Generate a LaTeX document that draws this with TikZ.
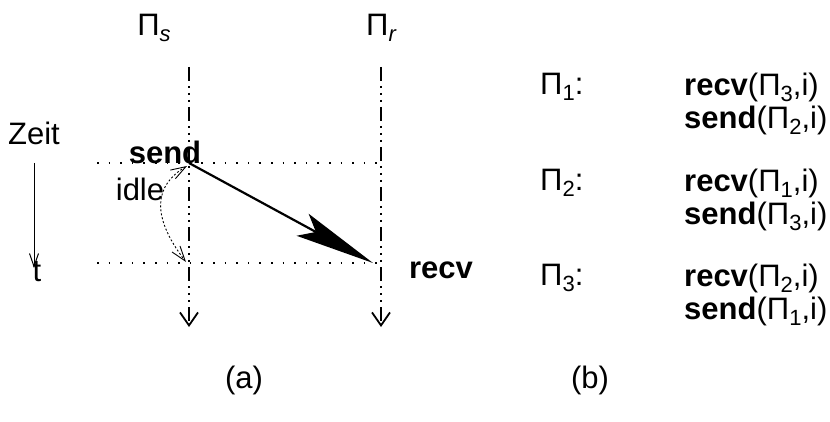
\documentclass[tikz,border=0pt]{standalone}
\usepackage{fontspec}
\setmainfont{Liberation Sans}
\usetikzlibrary{arrows.meta}
\newcommand{\lsub}[1]{\raisebox{-0.2em}{\fontsize{22}{22}\selectfont #1}}
\begin{document}
\begin{tikzpicture}[x=1pt,y=-1pt,
  every node/.style={font=\fontsize{31}{35}\selectfont, inner sep=0pt},
  life/.style={line width=2.2pt, dash pattern=on 14pt off 5pt on 2pt off 5pt on 2pt off 5pt on 2pt off 5pt,
    -{Straight Barb[length=13pt,width=18pt,line width=1.8pt]}},
  guide/.style={line width=1.6pt, dash pattern=on 1.6pt off 10pt},
  msg/.style={line width=2.2pt, -{Stealth[length=80pt,width=25pt,inset=15pt]}},
  idlearrow/.style={line width=0.9pt, dash pattern=on 2pt off 2pt,
    {Straight Barb[length=15pt,width=10pt,line width=0.9pt]}-{Straight Barb[length=15pt,width=10pt,line width=0.9pt]}},
  timearrow/.style={line width=1pt, -{Straight Barb[length=13pt,width=9pt,line width=1pt]}},
  lbl/.style={anchor=west}]
\useasboundingbox (0,0) rectangle (830,422);
% lifelines
\coordinate (sTop) at (189,67);
\coordinate (sBot) at (189,327);
\coordinate (rTop) at (381,67);
\coordinate (rBot) at (381,327);
\node (ps) at (154,28) {Π\lsub{\itshape s}};
\node (pr) at (381,28) {Π\lsub{\itshape r}};
\draw[life] (sTop) -- (sBot);
\draw[life] (rTop) -- (rBot);
% guides
\coordinate (g1a) at (97,163);
\coordinate (g1b) at (381,163);
\coordinate (g2a) at (97,263);
\coordinate (g2b) at (381,263);
\draw[guide] (g1a) -- (g1b);
\draw[guide] (g2a) -- (g2b);
% time
\node (zeit) at (34,133) {Zeit};
\coordinate (tTop) at (34,163);
\coordinate (tBot) at (34,268);
\draw[timearrow] (tTop) -- (tBot);
\node (t) at (37,272) {t};
% message
\node[font=\fontsize{31}{35}\selectfont\bfseries] (send) at (165,152) {send};
\node[font=\fontsize{31}{35}\selectfont\bfseries] (recv) at (441,270) {recv};
\coordinate (sp) at (189,163);
\coordinate (rp) at (373,263);
\draw[msg] (sp) -- (rp);
% idle
\node (idle) at (140,189) {idle};
\coordinate (i1) at (187,166);
\coordinate (i2) at (186,262);
\draw[idlearrow] (i1) .. controls (155,185) and (150,215) .. (i2);
% labels
\node (a) at (244,380) {(a)};
\node (b) at (590,380) {(b)};
% right panel
\node[lbl] (p1) at (540,87) {Π\lsub{1}:};
\node[lbl] (r1) at (684,87) {\textbf{recv}(Π\lsub{3},i)};
\node[lbl] (s1) at (684,120) {\textbf{send}(Π\lsub{2},i)};
\node[lbl] (p2) at (540,183) {Π\lsub{2}:};
\node[lbl] (r2) at (684,183) {\textbf{recv}(Π\lsub{1},i)};
\node[lbl] (s2) at (684,216) {\textbf{send}(Π\lsub{3},i)};
\node[lbl] (p3) at (540,278) {Π\lsub{3}:};
\node[lbl] (r3) at (684,278) {\textbf{recv}(Π\lsub{2},i)};
\node[lbl] (s3) at (684,311) {\textbf{send}(Π\lsub{1},i)};
\end{tikzpicture}
\end{document}
